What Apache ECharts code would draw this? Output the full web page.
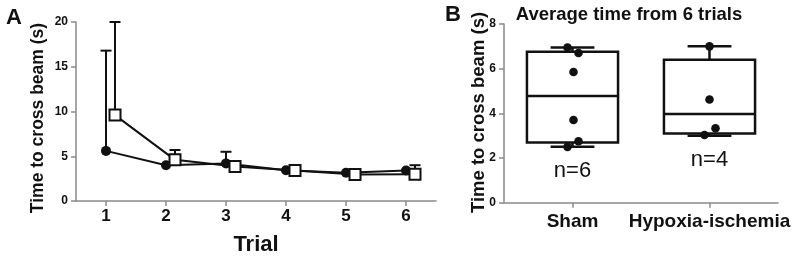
<!DOCTYPE html>
<html>
<head>
<meta charset="utf-8">
<script src="https://cdn.jsdelivr.net/npm/echarts@6/dist/echarts.min.js"></script>
<style>
html,body{margin:0;padding:0;background:#fff;}
#c{width:800px;height:261px;}
</style>
</head>
<body>
<div id="c"></div>
<script>
// ---- Panel A data ----
const trials = [1, 2, 3, 4, 5, 6];
const trialTicks = [1, 2, 3, 4, 5, 6];
const circleMean = [5.6, 4.0, 4.2, 3.44, 3.15, 3.4];
const circleUpper = [16.8, null, 5.5, null, null, null];
const squareMean = [9.6, 4.6, 3.85, 3.4, 2.95, 3.0];
const squareUpper = [20.0, 5.7, null, null, null, 4.0];

// ---- Panel B data ----
const groups = ['Sham', 'Hypoxia-ischemia'];
const groupN = ['n=6', 'n=4'];
const boxMin = [2.5, 3.0];
const boxQ1 = [2.7, 3.1];
const boxMedian = [4.78, 3.97];
const boxQ3 = [6.76, 6.4];
const boxMax = [6.95, 7.0];
const shamPoints = [6.95, 6.7, 5.85, 3.7, 2.75, 2.5];
const hiPoints = [7.0, 4.62, 3.33, 3.03];

// ---- style constants ----
const FONT = '"Liberation Sans", Arial, sans-serif';
const INK = '#111';
const AXIS = '#8a8a8a';
const sqOffset = 0.15;
const shamJitter = [-5, 6, 1, 1, 6, -5];
const hiJitter = [0, 0, 6, -5];

const chart = echarts.init(document.getElementById('c'), null, {renderer: 'canvas'});

function errItem(params, api) {
  const x = api.value(0), m = api.value(1), u = api.value(2);
  if (u == null || isNaN(u)) return null;
  const p0 = api.coord([x, m]);
  const p1 = api.coord([x, u]);
  return {
    type: 'group',
    children: [
      {type: 'line', shape: {x1: p0[0], y1: p0[1], x2: p1[0], y2: p1[1]}, style: {stroke: INK, lineWidth: 2}},
      {type: 'line', shape: {x1: p1[0] - 5.5, y1: p1[1], x2: p1[0] + 5.5, y2: p1[1]}, style: {stroke: INK, lineWidth: 2}}
    ]
  };
}

const circleErr = trials.map((t, i) => [t, circleMean[i], circleUpper[i]]);
const squareErr = trials.map((t, i) => [t + sqOffset, squareMean[i], squareUpper[i]]);

const boxData = groups.map((g, i) => [i, boxMin[i], boxQ1[i], boxMedian[i], boxQ3[i], boxMax[i]]);

function boxItem(params, api) {
  const i = api.value(0);
  const band = api.size([1, 0])[0];
  const bw = band * 0.665;
  const cw = band * 0.32;
  const cx = api.coord([i, 0])[0];
  const yMin = api.coord([i, api.value(1)])[1];
  const yQ1 = api.coord([i, api.value(2)])[1];
  const yMed = api.coord([i, api.value(3)])[1];
  const yQ3 = api.coord([i, api.value(4)])[1];
  const yMax = api.coord([i, api.value(5)])[1];
  const st = {stroke: INK, lineWidth: 2.5, fill: null};
  return {
    type: 'group',
    children: [
      {type: 'rect', shape: {x: cx - bw / 2, y: yQ3, width: bw, height: yQ1 - yQ3}, style: {stroke: INK, lineWidth: 2.5, fill: 'none'}},
      {type: 'line', shape: {x1: cx - bw / 2, y1: yMed, x2: cx + bw / 2, y2: yMed}, style: st},
      {type: 'line', shape: {x1: cx, y1: yQ3, x2: cx, y2: yMax}, style: st},
      {type: 'line', shape: {x1: cx, y1: yQ1, x2: cx, y2: yMin}, style: st},
      {type: 'line', shape: {x1: cx - cw / 2, y1: yMax, x2: cx + cw / 2, y2: yMax}, style: st},
      {type: 'line', shape: {x1: cx - cw / 2, y1: yMin, x2: cx + cw / 2, y2: yMin}, style: st},
      {type: 'text', x: cx, y: yMin + 24, style: {text: groupN[i], fill: INK, font: '22px ' + FONT, textAlign: 'center', textVerticalAlign: 'middle'}}
    ]
  };
}

const pointData = [];
shamPoints.forEach((v, k) => pointData.push([0, v, shamJitter[k]]));
hiPoints.forEach((v, k) => pointData.push([1, v, hiJitter[k]]));

function pointItem(params, api) {
  const p = api.coord([api.value(0), api.value(1)]);
  return {type: 'circle', shape: {cx: p[0] + api.value(2), cy: p[1], r: 4.3}, style: {fill: INK}};
}

const axisLineStyle = {show: true, lineStyle: {color: AXIS, width: 1.5}};
const axisTickStyle = {show: true, length: 5, lineStyle: {color: AXIS, width: 1.5}};

const option = {
  animation: false,
  backgroundColor: '#fff',
  textStyle: {fontFamily: FONT},
  grid: [
    {left: 76, top: 22, width: 360, height: 180},
    {left: 504, top: 24, width: 274, height: 178.7}
  ],
  xAxis: [
    {
      gridIndex: 0, type: 'value', min: 0.5, max: 6.5,
      splitLine: {show: false},
      axisLine: axisLineStyle,
      axisTick: Object.assign({}, axisTickStyle, {customValues: trialTicks}),
      axisLabel: {customValues: trialTicks, margin: 7, color: INK, fontWeight: 'bold', fontSize: 17, fontFamily: FONT},
      name: 'Trial', nameLocation: 'middle', nameGap: 33,
      nameTextStyle: {color: INK, fontWeight: 'bold', fontSize: 22, fontFamily: FONT}
    },
    {
      gridIndex: 1, type: 'category', data: groups, boundaryGap: true,
      axisLine: axisLineStyle,
      axisTick: Object.assign({}, axisTickStyle, {alignWithLabel: true}),
      axisLabel: {interval: 0, margin: 10, color: INK, fontWeight: 'bold', fontSize: 19, fontFamily: FONT}
    }
  ],
  yAxis: [
    {
      gridIndex: 0, type: 'value', min: 0, max: 20, interval: 5,
      splitLine: {show: false},
      axisLine: axisLineStyle, axisTick: axisTickStyle,
      axisLabel: {margin: 8, color: INK, fontWeight: 'bold', fontSize: 12, fontFamily: FONT}
    },
    {
      gridIndex: 1, type: 'value', min: 0, max: 8, interval: 2,
      splitLine: {show: false},
      axisLine: axisLineStyle, axisTick: axisTickStyle,
      axisLabel: {margin: 8, color: INK, fontWeight: 'bold', fontSize: 12, fontFamily: FONT}
    }
  ],
  graphic: [
    {type: 'text', x: 14, y: 18, style: {text: 'A', fill: INK, font: 'bold 22px ' + FONT, textAlign: 'center', textVerticalAlign: 'middle'}},
    {type: 'text', x: 453, y: 15, style: {text: 'B', fill: INK, font: 'bold 22px ' + FONT, textAlign: 'center', textVerticalAlign: 'middle'}},
    {type: 'text', x: 629, y: 15, style: {text: 'Average time from 6 trials', fill: INK, font: 'bold 18.5px ' + FONT, textAlign: 'center', textVerticalAlign: 'middle'}},
    {type: 'text', x: 38.5, y: 118, rotation: Math.PI / 2, style: {text: 'Time to cross beam (s)', fill: INK, font: 'bold 17.5px ' + FONT, textAlign: 'center', textVerticalAlign: 'middle'}},
    {type: 'text', x: 479, y: 112.5, rotation: Math.PI / 2, style: {text: 'Time to cross beam (s)', fill: INK, font: 'bold 18.5px ' + FONT, textAlign: 'center', textVerticalAlign: 'middle'}}
  ],
  series: [
    {type: 'custom', xAxisIndex: 0, yAxisIndex: 0, renderItem: errItem, data: circleErr, z: 1},
    {type: 'custom', xAxisIndex: 0, yAxisIndex: 0, renderItem: errItem, data: squareErr, z: 1},
    {
      name: 'circles', type: 'line', xAxisIndex: 0, yAxisIndex: 0, z: 2,
      data: trials.map((t, i) => [t, circleMean[i]]),
      symbol: 'circle', symbolSize: 10,
      lineStyle: {color: INK, width: 2}, itemStyle: {color: INK}
    },
    {
      name: 'squares', type: 'line', xAxisIndex: 0, yAxisIndex: 0, z: 3,
      data: trials.map((t, i) => [t + sqOffset, squareMean[i]]),
      symbol: 'rect', symbolSize: 11,
      lineStyle: {color: INK, width: 2}, itemStyle: {color: '#fff', borderColor: INK, borderWidth: 2}
    },
    {type: 'custom', xAxisIndex: 1, yAxisIndex: 1, renderItem: boxItem, data: boxData, z: 2},
    {type: 'custom', xAxisIndex: 1, yAxisIndex: 1, renderItem: pointItem, data: pointData, z: 3}
  ]
};
chart.setOption(option);
</script>
</body>
</html>
